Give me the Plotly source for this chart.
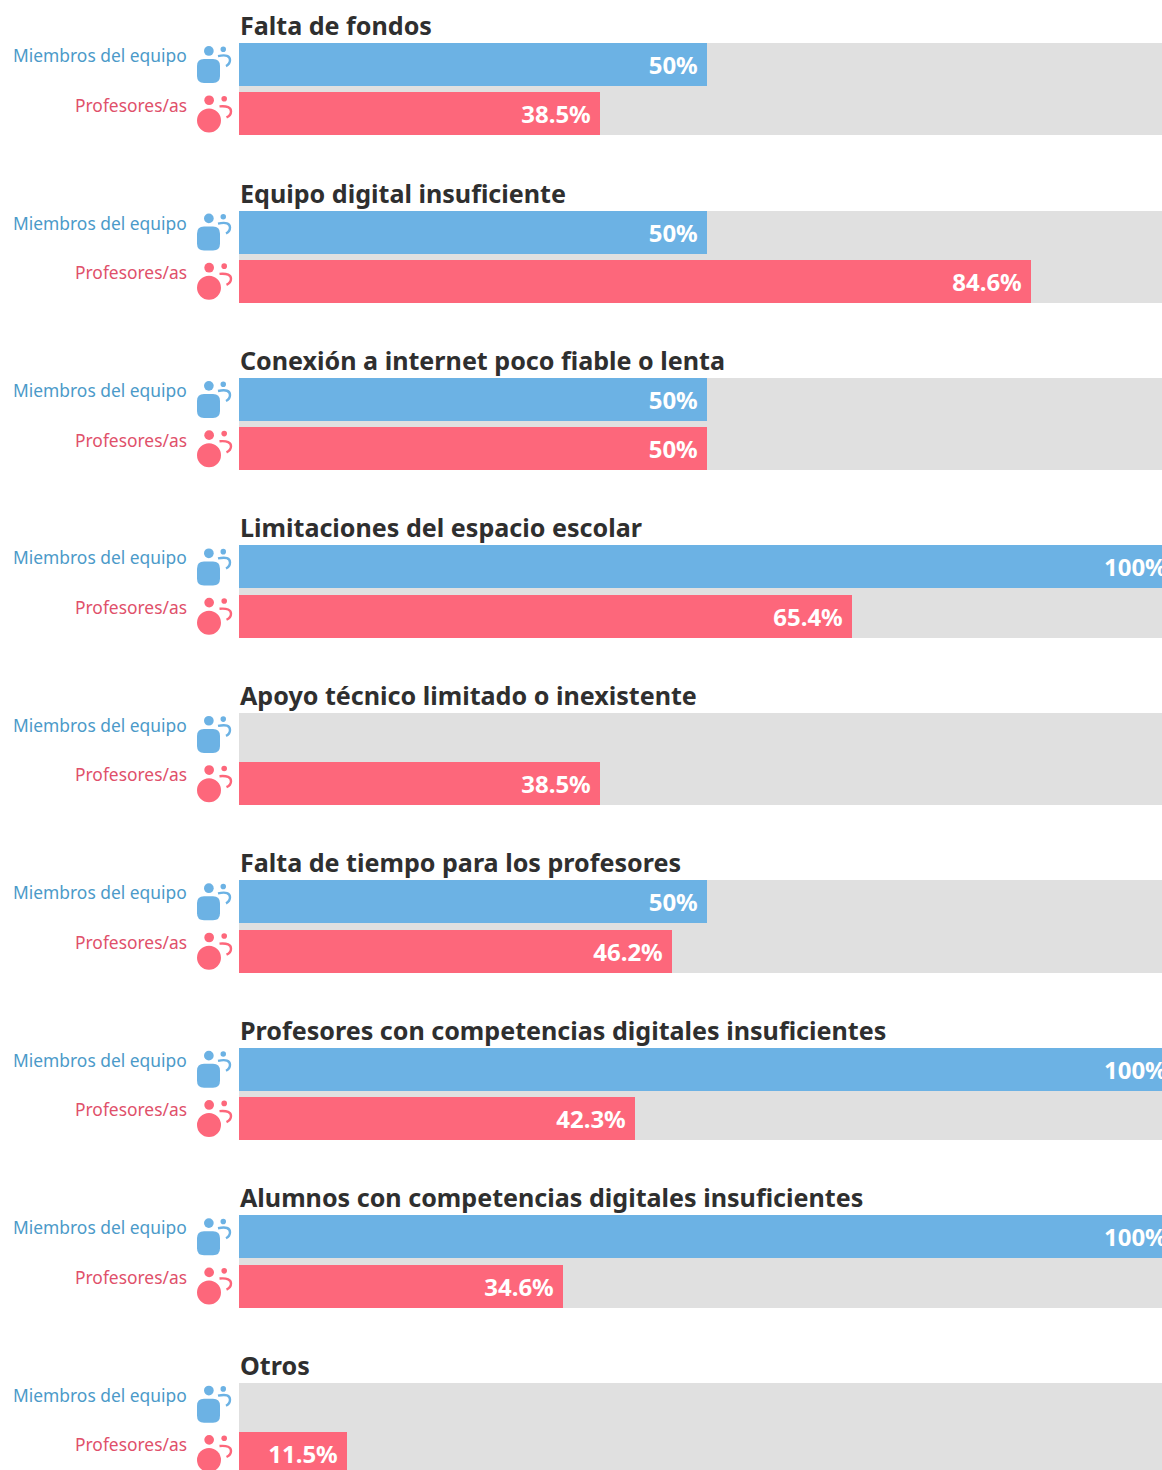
import plotly.graph_objects as go

W, H = 1162, 1470
categories = ["Falta de fondos", "Equipo digital insuficiente", "Conexión a internet poco fiable o lenta",
              "Limitaciones del espacio escolar", "Apoyo técnico limitado o inexistente",
              "Falta de tiempo para los profesores", "Profesores con competencias digitales insuficientes",
              "Alumnos con competencias digitales insuficientes", "Otros"]
team_values = [50, 50, 50, 100, None, 50, 100, 100, None]
teacher_values = [38.5, 84.6, 50, 65.4, 38.5, 46.2, 42.3, 34.6, 11.5]
team_label = "Miembros del equipo"
teacher_label = "Profesores/as"

BLUE, RED, GREY = "#6cb2e4", "#fd677b", "#e0e0e0"
BLUE_T, RED_T, DARK = "#4b9ac9", "#e0506a", "#2f2f2f"
FONT = "Noto Sans"
X0, PERROW, TOP, BH, GAP = 239, 167.45, 43.1, 43, 6.3
PX_PER_PCT = 9.367

n = len(categories)
tops = [TOP + PERROW * i for i in range(n)]
blue_c = [t + BH / 2 for t in tops]
red_c = [t + BH + GAP + BH / 2 for t in tops]
grey_c = [t + (2 * BH + GAP) / 2 for t in tops]
max_x = (W - X0) / PX_PER_PCT


def fmt(v):
    return "" if v is None else f"{v:g}%\u00a0"


def px(v):
    return v / W


fig = go.Figure()
fig.add_trace(go.Bar(orientation="h", y=grey_c, x=[110] * n, width=2 * BH + GAP,
                     marker=dict(color=GREY, line_width=0), hoverinfo="skip", showlegend=False))
for vals, cs, col, name in [(team_values, blue_c, BLUE, team_label), (teacher_values, red_c, RED, teacher_label)]:
    fig.add_trace(go.Bar(orientation="h", y=cs, x=vals, width=BH, name=name,
                         marker=dict(color=col, line_width=0),
                         text=[fmt(v) for v in vals], textposition="inside", insidetextanchor="end",
                         textangle=0, constraintext="none",
                         textfont=dict(family=FONT, size=24, color="white", weight=700),
                         showlegend=False))

ann = []
shapes = []


def icon(top, col, round_body):
    if round_body:
        shapes.append(dict(type="circle", xref="paper", yref="y", x0=px(204.3), x1=px(214), y0=top, y1=top + 9.7,
                           fillcolor=col, line_width=0))
        shapes.append(dict(type="circle", xref="paper", yref="y", x0=px(221.4), x1=px(227), y0=top + .5, y1=top + 6.1,
                           fillcolor=col, line_width=0))
        shapes.append(dict(type="circle", xref="paper", yref="y", x0=px(197), x1=px(221), y0=top + 13, y1=top + 37,
                           fillcolor=col, line_width=0))
        arc = (f"M {px(219.5)} {top+11} Q {px(231)} {top+10} {px(231)} {top+16} "
               f"Q {px(231)} {top+20} {px(226.5)} {top+22}")
    else:
        shapes.append(dict(type="circle", xref="paper", yref="y", x0=px(204), x1=px(213.7), y0=top, y1=top + 9.7,
                           fillcolor=col, line_width=0))
        shapes.append(dict(type="circle", xref="paper", yref="y", x0=px(220.5), x1=px(226), y0=top + .4, y1=top + 6,
                           fillcolor=col, line_width=0))
        x0, x1, y0, y1, r = 197, 220, top + 13, top + 37, 7
        p = (f"M {px(x0+r)} {y0} L {px(x1-r)} {y0} Q {px(x1)} {y0} {px(x1)} {y0+r} L {px(x1)} {y1-r} "
             f"Q {px(x1)} {y1} {px(x1-r)} {y1} L {px(x0+r)} {y1} Q {px(x0)} {y1} {px(x0)} {y1-r} "
             f"L {px(x0)} {y0+r} Q {px(x0)} {y0} {px(x0+r)} {y0} Z")
        shapes.append(dict(type="path", xref="paper", yref="y", path=p, fillcolor=col, line_width=0))
        arc = (f"M {px(218)} {top+10} Q {px(230)} {top+7.5} {px(230)} {top+14} "
               f"Q {px(230)} {top+18} {px(226)} {top+20}")
    shapes.append(dict(type="path", xref="paper", yref="y", path=arc, line=dict(color=col, width=2.4)))


for i, cat in enumerate(categories):
    ann.append(dict(xref="paper", yref="y", x=px(240), y=tops[i] - 18, text=cat, showarrow=False, xanchor="left",
                    yanchor="middle", xshift=-2, font=dict(family=FONT, size=25.1, color=DARK, weight=700)))
    ann.append(dict(xref="paper", yref="y", x=px(189), y=tops[i] + 12, text=team_label, showarrow=False,
                    xanchor="right", yanchor="middle", font=dict(family=FONT, size=17.4, color=BLUE_T)))
    ann.append(dict(xref="paper", yref="y", x=px(189), y=tops[i] + 61.5, text=teacher_label, showarrow=False,
                    xanchor="right", yanchor="middle", font=dict(family=FONT, size=17.4, color=RED_T)))
    icon(tops[i] + 3, BLUE, False)
    icon(tops[i] + BH + GAP + 3, RED, True)

fig.update_layout(
    width=W, height=H, margin=dict(l=0, r=0, t=0, b=0), barmode="overlay", bargap=0,
    paper_bgcolor="white", plot_bgcolor="white", annotations=ann, shapes=shapes,
    xaxis=dict(domain=[X0 / W, 1], range=[0, max_x], visible=False, fixedrange=True),
    yaxis=dict(domain=[0, 1], range=[H, 0], visible=False, fixedrange=True),
)
fig.write_html("out.html", config=dict(displayModeBar=False),
               post_script="document.body.style.margin='0';document.body.style.overflow='hidden';")
